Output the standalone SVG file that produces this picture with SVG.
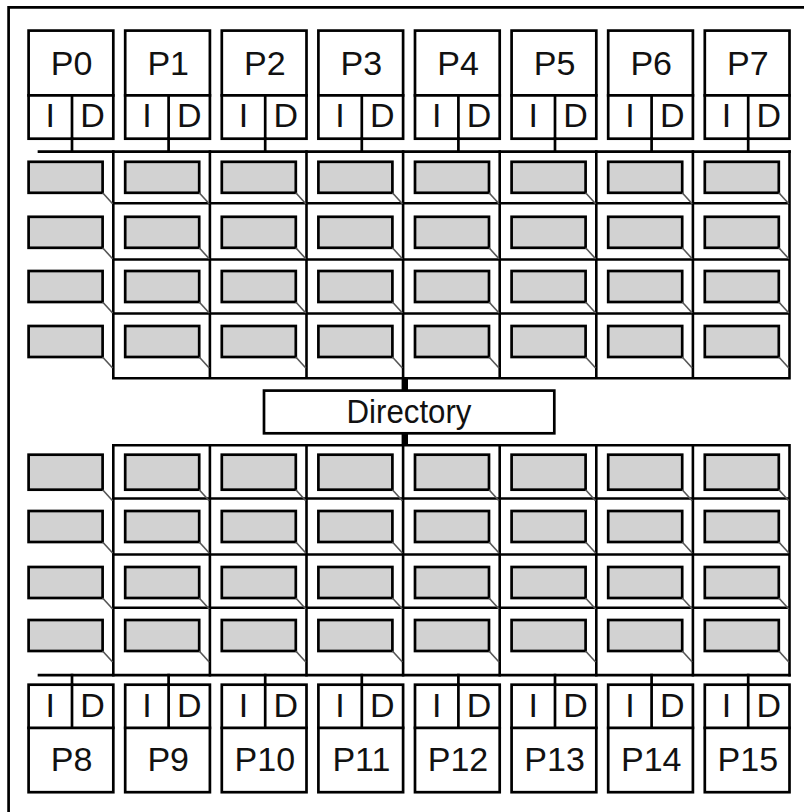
<svg xmlns="http://www.w3.org/2000/svg" xmlns:xlink="http://www.w3.org/1999/xlink" width="804" height="812" viewBox="0 0 804 812">
<style>
.bx{fill:#fff;stroke:#000;stroke-width:2.7}
.ln{fill:none;stroke:#000;stroke-width:2.7;stroke-linecap:square}
.gr{fill:none;stroke:#000;stroke-width:2.6;stroke-linecap:square}
.cr{fill:#d2d2d2;stroke:#000;stroke-width:2.7}
.dg{stroke:#555;stroke-width:1.6}
.t{font-family:"Liberation Sans",Arial,Helvetica,sans-serif;font-size:34px;fill:#111;text-anchor:middle}
</style>
<defs>
<g id="cell"><rect class="cr" x="0" y="0" width="74" height="31"/><line class="dg" x1="74" y1="31" x2="84" y2="42"/></g>
<g id="cellT"><rect class="cr" x="0" y="0" width="74" height="35"/><line class="dg" x1="74" y1="35" x2="84" y2="46"/></g>
</defs>
<rect width="804" height="812" fill="#fff"/>
<path class="ln" d="M8.6 814 V7.4 H806"/>

<!-- top processors -->
<g id="P0" transform="translate(28.6,0)"><rect class="bx" x="0" y="30.6" width="84.7" height="108.1"/><path class="ln" d="M0 95.3 H84.7 M43.4 95.3 V138.7"/><text class="t" x="43" y="75">P0</text><text class="t" x="21.7" y="127">I</text><text class="t" x="64" y="127">D</text></g>
<g id="P1" transform="translate(125.2,0)"><rect class="bx" x="0" y="30.6" width="84.7" height="108.1"/><path class="ln" d="M0 95.3 H84.7 M43.4 95.3 V138.7"/><text class="t" x="43" y="75">P1</text><text class="t" x="21.7" y="127">I</text><text class="t" x="64" y="127">D</text></g>
<g id="P2" transform="translate(221.8,0)"><rect class="bx" x="0" y="30.6" width="84.7" height="108.1"/><path class="ln" d="M0 95.3 H84.7 M43.4 95.3 V138.7"/><text class="t" x="43" y="75">P2</text><text class="t" x="21.7" y="127">I</text><text class="t" x="64" y="127">D</text></g>
<g id="P3" transform="translate(318.4,0)"><rect class="bx" x="0" y="30.6" width="84.7" height="108.1"/><path class="ln" d="M0 95.3 H84.7 M43.4 95.3 V138.7"/><text class="t" x="43" y="75">P3</text><text class="t" x="21.7" y="127">I</text><text class="t" x="64" y="127">D</text></g>
<g id="P4" transform="translate(415,0)"><rect class="bx" x="0" y="30.6" width="84.7" height="108.1"/><path class="ln" d="M0 95.3 H84.7 M43.4 95.3 V138.7"/><text class="t" x="43" y="75">P4</text><text class="t" x="21.7" y="127">I</text><text class="t" x="64" y="127">D</text></g>
<g id="P5" transform="translate(511.6,0)"><rect class="bx" x="0" y="30.6" width="84.7" height="108.1"/><path class="ln" d="M0 95.3 H84.7 M43.4 95.3 V138.7"/><text class="t" x="43" y="75">P5</text><text class="t" x="21.7" y="127">I</text><text class="t" x="64" y="127">D</text></g>
<g id="P6" transform="translate(608.2,0)"><rect class="bx" x="0" y="30.6" width="84.7" height="108.1"/><path class="ln" d="M0 95.3 H84.7 M43.4 95.3 V138.7"/><text class="t" x="43" y="75">P6</text><text class="t" x="21.7" y="127">I</text><text class="t" x="64" y="127">D</text></g>
<g id="P7" transform="translate(704.8,0)"><rect class="bx" x="0" y="30.6" width="84.7" height="108.1"/><path class="ln" d="M0 95.3 H84.7 M43.4 95.3 V138.7"/><text class="t" x="43" y="75">P7</text><text class="t" x="21.7" y="127">I</text><text class="t" x="64" y="127">D</text></g>

<!-- bottom processors -->
<g id="P8" transform="translate(28.6,0)"><rect class="bx" x="0" y="684.7" width="84.7" height="107.5"/><path class="ln" d="M0 727.8 H84.7 M43.4 684.7 V727.8"/><text class="t" x="43" y="771">P8</text><text class="t" x="21.7" y="717">I</text><text class="t" x="64" y="717">D</text></g>
<g id="P9" transform="translate(125.2,0)"><rect class="bx" x="0" y="684.7" width="84.7" height="107.5"/><path class="ln" d="M0 727.8 H84.7 M43.4 684.7 V727.8"/><text class="t" x="43" y="771">P9</text><text class="t" x="21.7" y="717">I</text><text class="t" x="64" y="717">D</text></g>
<g id="P10" transform="translate(221.8,0)"><rect class="bx" x="0" y="684.7" width="84.7" height="107.5"/><path class="ln" d="M0 727.8 H84.7 M43.4 684.7 V727.8"/><text class="t" x="43" y="771">P10</text><text class="t" x="21.7" y="717">I</text><text class="t" x="64" y="717">D</text></g>
<g id="P11" transform="translate(318.4,0)"><rect class="bx" x="0" y="684.7" width="84.7" height="107.5"/><path class="ln" d="M0 727.8 H84.7 M43.4 684.7 V727.8"/><text class="t" x="43" y="771">P11</text><text class="t" x="21.7" y="717">I</text><text class="t" x="64" y="717">D</text></g>
<g id="P12" transform="translate(415,0)"><rect class="bx" x="0" y="684.7" width="84.7" height="107.5"/><path class="ln" d="M0 727.8 H84.7 M43.4 684.7 V727.8"/><text class="t" x="43" y="771">P12</text><text class="t" x="21.7" y="717">I</text><text class="t" x="64" y="717">D</text></g>
<g id="P13" transform="translate(511.6,0)"><rect class="bx" x="0" y="684.7" width="84.7" height="107.5"/><path class="ln" d="M0 727.8 H84.7 M43.4 684.7 V727.8"/><text class="t" x="43" y="771">P13</text><text class="t" x="21.7" y="717">I</text><text class="t" x="64" y="717">D</text></g>
<g id="P14" transform="translate(608.2,0)"><rect class="bx" x="0" y="684.7" width="84.7" height="107.5"/><path class="ln" d="M0 727.8 H84.7 M43.4 684.7 V727.8"/><text class="t" x="43" y="771">P14</text><text class="t" x="21.7" y="717">I</text><text class="t" x="64" y="717">D</text></g>
<g id="P15" transform="translate(704.8,0)"><rect class="bx" x="0" y="684.7" width="84.7" height="107.5"/><path class="ln" d="M0 727.8 H84.7 M43.4 684.7 V727.8"/><text class="t" x="43" y="771">P15</text><text class="t" x="21.7" y="717">I</text><text class="t" x="64" y="717">D</text></g>

<!-- top cache array -->
<g id="cache-top">
<path class="gr" d="M113.3 203.3 H789.5 M113.3 259.5 H789.5 M113.3 313.5 H789.5 M113.3 378.2 H789.5 M113.3 151.6 V378.2 M209.9 151.6 V378.2 M306.5 151.6 V378.2 M403.1 151.6 V378.2 M499.7 151.6 V378.2 M596.3 151.6 V378.2 M692.9 151.6 V378.2 M789.5 151.6 V378.2"/>
<use xlink:href="#cell" x="28.6" y="161.8"/><use xlink:href="#cell" x="125.2" y="161.8"/><use xlink:href="#cell" x="221.8" y="161.8"/><use xlink:href="#cell" x="318.4" y="161.8"/><use xlink:href="#cell" x="415" y="161.8"/><use xlink:href="#cell" x="511.6" y="161.8"/><use xlink:href="#cell" x="608.2" y="161.8"/><use xlink:href="#cell" x="704.8" y="161.8"/>
<use xlink:href="#cell" x="28.6" y="216.8"/><use xlink:href="#cell" x="125.2" y="216.8"/><use xlink:href="#cell" x="221.8" y="216.8"/><use xlink:href="#cell" x="318.4" y="216.8"/><use xlink:href="#cell" x="415" y="216.8"/><use xlink:href="#cell" x="511.6" y="216.8"/><use xlink:href="#cell" x="608.2" y="216.8"/><use xlink:href="#cell" x="704.8" y="216.8"/>
<use xlink:href="#cell" x="28.6" y="271"/><use xlink:href="#cell" x="125.2" y="271"/><use xlink:href="#cell" x="221.8" y="271"/><use xlink:href="#cell" x="318.4" y="271"/><use xlink:href="#cell" x="415" y="271"/><use xlink:href="#cell" x="511.6" y="271"/><use xlink:href="#cell" x="608.2" y="271"/><use xlink:href="#cell" x="704.8" y="271"/>
<use xlink:href="#cell" x="28.6" y="326"/><use xlink:href="#cell" x="125.2" y="326"/><use xlink:href="#cell" x="221.8" y="326"/><use xlink:href="#cell" x="318.4" y="326"/><use xlink:href="#cell" x="415" y="326"/><use xlink:href="#cell" x="511.6" y="326"/><use xlink:href="#cell" x="608.2" y="326"/><use xlink:href="#cell" x="704.8" y="326"/>
</g>

<!-- bottom cache array -->
<g id="cache-bottom">
<path class="gr" d="M113.3 445.2 H789.5 M113.3 498.5 H789.5 M113.3 554.5 H789.5 M113.3 607.8 H789.5 M113.3 445.2 V675.2 M209.9 445.2 V675.2 M306.5 445.2 V675.2 M403.1 445.2 V675.2 M499.7 445.2 V675.2 M596.3 445.2 V675.2 M692.9 445.2 V675.2 M789.5 445.2 V675.2"/>
<use xlink:href="#cellT" x="28.6" y="454.7"/><use xlink:href="#cellT" x="125.2" y="454.7"/><use xlink:href="#cellT" x="221.8" y="454.7"/><use xlink:href="#cellT" x="318.4" y="454.7"/><use xlink:href="#cellT" x="415" y="454.7"/><use xlink:href="#cellT" x="511.6" y="454.7"/><use xlink:href="#cellT" x="608.2" y="454.7"/><use xlink:href="#cellT" x="704.8" y="454.7"/>
<use xlink:href="#cell" x="28.6" y="511"/><use xlink:href="#cell" x="125.2" y="511"/><use xlink:href="#cell" x="221.8" y="511"/><use xlink:href="#cell" x="318.4" y="511"/><use xlink:href="#cell" x="415" y="511"/><use xlink:href="#cell" x="511.6" y="511"/><use xlink:href="#cell" x="608.2" y="511"/><use xlink:href="#cell" x="704.8" y="511"/>
<use xlink:href="#cell" x="28.6" y="567"/><use xlink:href="#cell" x="125.2" y="567"/><use xlink:href="#cell" x="221.8" y="567"/><use xlink:href="#cell" x="318.4" y="567"/><use xlink:href="#cell" x="415" y="567"/><use xlink:href="#cell" x="511.6" y="567"/><use xlink:href="#cell" x="608.2" y="567"/><use xlink:href="#cell" x="704.8" y="567"/>
<use xlink:href="#cell" x="28.6" y="620"/><use xlink:href="#cell" x="125.2" y="620"/><use xlink:href="#cell" x="221.8" y="620"/><use xlink:href="#cell" x="318.4" y="620"/><use xlink:href="#cell" x="415" y="620"/><use xlink:href="#cell" x="511.6" y="620"/><use xlink:href="#cell" x="608.2" y="620"/><use xlink:href="#cell" x="704.8" y="620"/>
</g>

<!-- directory -->
<g id="directory">
<rect class="bx" x="264" y="390.6" width="290.3" height="42.7"/>
<text class="t" x="409" y="423" textLength="125" lengthAdjust="spacingAndGlyphs">Directory</text>
</g>

<!-- connectors -->
<g id="connectors">
<path class="ln" d="M39 151.6 H789.5 M39 675.2 H789.5"/>
<path class="ln" d="M72 138.7 V151.6 M168.6 138.7 V151.6 M265.2 138.7 V151.6 M361.8 138.7 V151.6 M458.4 138.7 V151.6 M555 138.7 V151.6 M651.6 138.7 V151.6 M748.2 138.7 V151.6"/>
<path class="ln" d="M72 675.2 V684.7 M168.6 675.2 V684.7 M265.2 675.2 V684.7 M361.8 675.2 V684.7 M458.4 675.2 V684.7 M555 675.2 V684.7 M651.6 675.2 V684.7 M748.2 675.2 V684.7"/>
<rect x="401.6" y="378" width="6.4" height="13" fill="#000"/>
<rect x="401.6" y="433" width="6.4" height="12.5" fill="#000"/>
</g>
</svg>
